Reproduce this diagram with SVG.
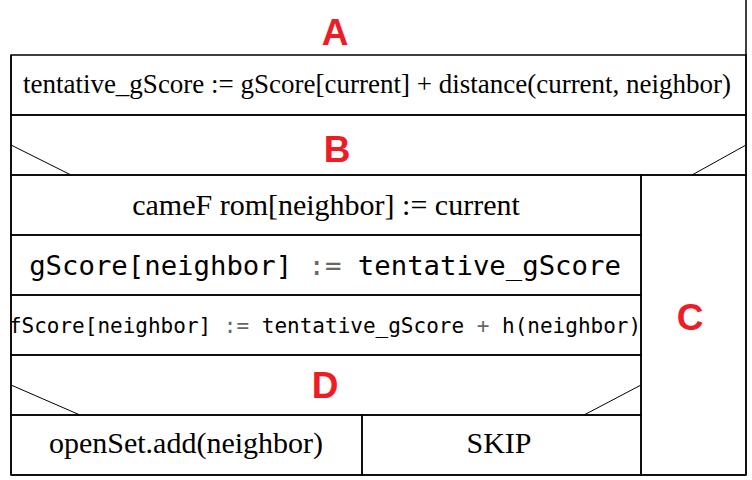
<svg xmlns="http://www.w3.org/2000/svg" width="752" height="480" viewBox="0 0 752 480">
<style>
.ln{stroke:#000;stroke-width:1.5;fill:none}
.dg{stroke:#000;stroke-width:1;fill:none}
.serif{font-family:"Liberation Serif","Times New Roman",serif;fill:#000}
.mono{font-family:"DejaVu Sans Mono","Liberation Mono",monospace;fill:#000}
.op{fill:#666}
.lbl{font-family:"Liberation Sans",Arial,sans-serif;font-weight:bold;font-size:37px;fill:#ee1c25;text-anchor:middle}
</style>
<rect width="752" height="480" fill="#fff"/>
<g id="frame">
<line class="ln" x1="746" y1="0" x2="746" y2="475"/>
<line class="ln" x1="11" y1="55" x2="11" y2="475"/>
<line class="ln" x1="11" y1="475" x2="746" y2="475"/>
</g>
<g id="nodeA">
<rect class="ln" x="11" y="55" width="735" height="60"/>
<text class="serif" x="377" y="93" font-size="27" text-anchor="middle">tentative_gScore := gScore[current] + distance(current, neighbor)</text>
</g>
<g id="nodeB">
<rect class="ln" x="11" y="115" width="735" height="60"/>
</g>
<g id="nodeC">
<rect class="ln" x="641" y="175" width="105" height="300"/>
</g>
<g id="node-camefrom">
<rect class="ln" x="11" y="175" width="630" height="60"/>
<text class="serif" x="326" y="215" font-size="30" text-anchor="middle">cameF rom[neighbor] := current</text>
</g>
<g id="node-gscore">
<rect class="ln" x="11" y="235" width="630" height="60"/>
<text class="mono" x="325" y="275" font-size="27.3" text-anchor="middle">gScore[neighbor] <tspan class="op">:=</tspan> tentative_gScore</text>
</g>
<g id="node-fscore">
<rect class="ln" x="11" y="295" width="630" height="60"/>
<text class="mono" x="325" y="333" font-size="21" text-anchor="middle">fScore[neighbor] <tspan class="op">:=</tspan> tentative_gScore <tspan class="op">+</tspan> h(neighbor)</text>
</g>
<g id="nodeD">
<rect class="ln" x="11" y="355" width="630" height="60"/>
</g>
<g id="node-add">
<rect class="ln" x="11" y="415" width="351" height="60"/>
<text class="serif" x="186" y="453" font-size="30" text-anchor="middle">openSet.add(neighbor)</text>
</g>
<g id="node-skip">
<rect class="ln" x="362" y="415" width="279" height="60"/>
<text class="serif" x="499" y="453" font-size="30" text-anchor="middle">SKIP</text>
</g>
<g id="connectors">
<line class="dg" x1="11" y1="145" x2="71" y2="175"/>
<line class="dg" x1="746" y1="145" x2="692" y2="175"/>
<line class="dg" x1="11" y1="385" x2="80" y2="415"/>
<line class="dg" x1="641" y1="385" x2="584" y2="415"/>
</g>
<g id="labels">
<text class="lbl" x="335" y="45">A</text>
<text class="lbl" x="337" y="162">B</text>
<text class="lbl" x="690" y="330">C</text>
<text class="lbl" x="325" y="398">D</text>
</g>
</svg>
